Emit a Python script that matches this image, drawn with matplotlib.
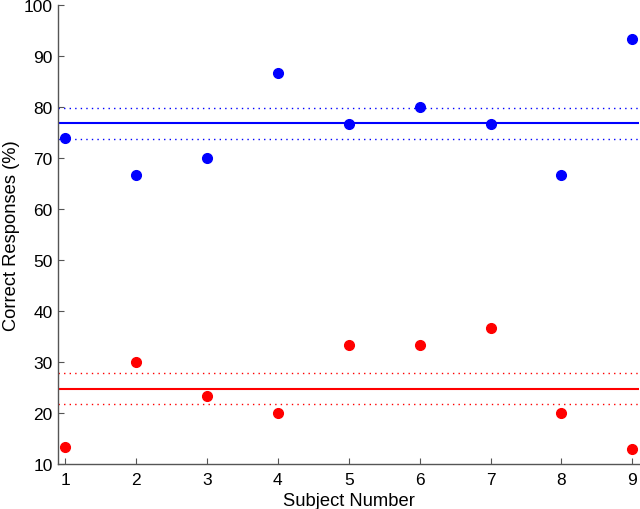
import matplotlib
matplotlib.use("Agg")
import matplotlib.pyplot as plt

subjects = [1, 2, 3, 4, 5, 6, 7, 8, 9]
blue_vals = [74.0, 66.7, 70.0, 86.7, 76.7, 80.0, 76.7, 66.7, 93.3]
red_vals = [13.3, 30.0, 23.3, 20.0, 33.3, 33.3, 36.7, 20.0, 13.0]
blue_mean, blue_lo, blue_hi = 76.8, 73.8, 79.8
red_mean, red_lo, red_hi = 24.8, 21.8, 27.8
xticks = [1, 2, 3, 4, 5, 6, 7, 8, 9]
yticks = [10, 20, 30, 40, 50, 60, 70, 80, 90, 100]

plt.rcParams['font.family'] = ['Liberation Sans', 'DejaVu Sans']
fig = plt.figure(figsize=(6.4, 5.1), dpi=100)
ax = fig.add_axes([0.091, 0.088, 0.908, 0.9])

for m, lo, hi, c in [(blue_mean, blue_lo, blue_hi, 'blue'), (red_mean, red_lo, red_hi, 'red')]:
    ax.axhline(m, color=c, lw=1.5)
    ax.axhline(lo, color=c, lw=1.0, linestyle=(0, (1, 3)))
    ax.axhline(hi, color=c, lw=1.0, linestyle=(0, (1, 3)))

ax.plot(subjects, blue_vals, 'o', color='blue', markersize=7.0, clip_on=False, zorder=5)
ax.plot(subjects, red_vals, 'o', color='red', markersize=7.0, clip_on=False, zorder=5)

ax.set_xlim(0.9, 9.1)
ax.set_ylim(10, 100)
ax.set_xticks(xticks)
ax.set_yticks(yticks)
for s in ['top', 'right']:
    ax.spines[s].set_visible(False)
for s in ['left', 'bottom']:
    ax.spines[s].set_color('#555555')
    ax.spines[s].set_linewidth(1.0)
ax.tick_params(direction='in', length=4.5, color='#555555', labelsize=12.5, labelcolor='black', pad=4)
ax.tick_params(axis='x', pad=6)
ax.set_xlabel('Subject Number', fontsize=13.2, labelpad=3)
ax.set_ylabel('Correct Responses (%)', fontsize=13.2, labelpad=3)

fig.savefig('out.png', dpi=100)
